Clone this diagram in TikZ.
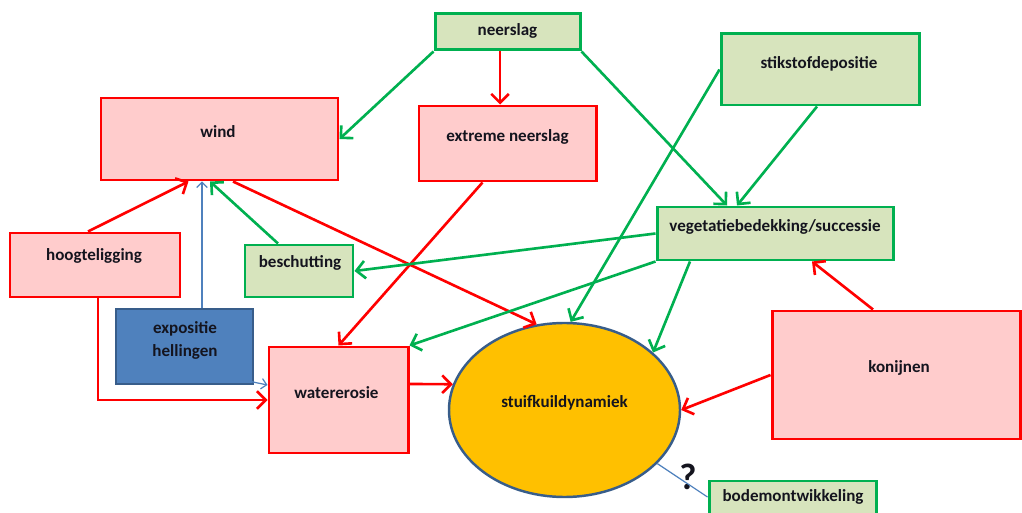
\documentclass[tikz,border=0pt]{standalone}
\usepackage{fontspec}
\setmainfont{Carlito}
\usetikzlibrary{arrows.meta,shapes.geometric}
\definecolor{rood}{HTML}{FF0000}
\definecolor{groen}{HTML}{00B050}
\definecolor{roze}{HTML}{FFCCCC}
\definecolor{lichtgroen}{HTML}{D7E4BD}
\definecolor{blauw}{HTML}{4F81BD}
\definecolor{donkerblauw}{HTML}{385D8A}
\definecolor{oranje}{HTML}{FFC000}
\definecolor{tekst}{HTML}{14141E}

\begin{document}
\begin{tikzpicture}[
	font=\fontsize{9.7}{13}\selectfont\bfseries,
	redbox/.style={draw=rood,fill=roze,line width=1.7pt,inner sep=0pt},
	greenbox/.style={draw=groen,fill=lichtgroen,line width=1.7pt,inner sep=0pt},
	redarrow/.style={draw=rood,line width=1.5pt,-{Straight Barb[length=5pt,width=10pt]}},
	greenarrow/.style={draw=groen,line width=1.5pt,-{Straight Barb[length=5pt,width=10pt]}},
	thinarrow/.style={draw=blauw,line width=0.7pt,-{Straight Barb[length=3pt,width=6pt]}},
	lbl/.style={text=tekst,inner sep=0pt,align=center}
	]
			\useasboundingbox (0,0) rectangle (20.44,-10.26);

			% vakken
			\node[greenbox,minimum width=2.9cm,minimum height=0.72cm] (neerslag) at (10.15,-0.64) {};
			\node[redbox,minimum width=4.74cm,minimum height=1.64cm] (wind) at (4.39,-2.78) {};
			\node[redbox,minimum width=3.54cm,minimum height=1.5cm] (extreem) at (10.15,-2.87) {};
			\node[greenbox,minimum width=3.96cm,minimum height=1.42cm] (stikstof) at (16.4,-1.39) {};
			\node[greenbox,minimum width=4.72cm,minimum height=1.06cm] (vegetatie) at (15.5,-4.67) {};
			\node[redbox,minimum width=3.4cm,minimum height=1.28cm] (hoogte) at (1.9,-5.3) {};
			\node[greenbox,minimum width=2.16cm,minimum height=1.04cm] (beschutting) at (5.98,-5.42) {};
			\node[draw=donkerblauw,fill=blauw,line width=1.4pt,inner sep=0pt,minimum width=2.74cm,minimum height=1.5cm] (expositie) at (3.69,-6.93) {};
			\node[redbox,minimum width=2.78cm,minimum height=2.12cm] (erosie) at (6.77,-8.0) {};
			\node[ellipse,draw=donkerblauw,fill=oranje,line width=1.4pt,inner sep=0pt,minimum width=4.62cm,minimum height=3.48cm] (stuif) at (11.29,-8.2) {};
			\node[redbox,minimum width=4.96cm,minimum height=2.56cm] (konijnen) at (17.92,-7.5) {};
			\node[greenbox,minimum width=3.34cm,minimum height=1.0cm] (bodem) at (15.85,-10.12) {};

			% teksten
			\node[lbl] (neerslag-t) at (10.15,-0.62) {neerslag};
			\node[lbl] (wind-t) at (4.36,-2.64) {wind};
			\node[lbl] (extreem-t) at (10.15,-2.74) {extreme neerslag};
			\node[lbl] (stikstof-t) at (16.38,-1.28) {stikstofdepositie};
			\node[lbl] (vegetatie-t) at (15.5,-4.54) {vegetatiebedekking/successie};
			\node[lbl] (hoogte-t) at (1.88,-5.12) {hoogteligging};
			\node[lbl] (beschutting-t) at (6.0,-5.26) {beschutting};
			\node[lbl] (expositie-t) at (3.7,-6.81) {expositie\\hellingen};
			\node[lbl] (erosie-t) at (6.73,-7.86) {watererosie};
			\node[lbl] (stuif-t) at (11.29,-8.06) {stuifkuildynamiek};
			\node[lbl] (konijnen-t) at (17.98,-7.36) {konijnen};
			\node[lbl] (bodem-t) at (15.86,-9.94) {bodemontwikkeling};
			\node[lbl,font=\fontsize{21}{21}\selectfont\bfseries] (vraag) at (13.76,-9.54) {?};

			% pijlen
			\draw[greenarrow] (neerslag.south west) -- (wind.east);
			\draw[redarrow] ([xshift=-0.15cm]neerslag.south) -- ([xshift=-0.15cm]extreem.north);
			\draw[greenarrow] (neerslag.south east) -- ([xshift=-0.96cm]vegetatie.north);
			\draw[greenarrow] ([xshift=-0.06cm]stikstof.south) -- ([xshift=-0.76cm]vegetatie.north);
			\draw[greenarrow] (stikstof.west) -- (stuif.86);
			\draw[redarrow] ([xshift=0.27cm]wind.south) -- (stuif.108);
			\draw[redarrow] ([xshift=-0.5cm]extreem.south) -- (erosie.north);
			\draw[redarrow] ([xshift=-0.14cm]hoogte.north) -- ([xshift=-0.62cm]wind.south);
			\draw[greenarrow] ([xshift=-0.42cm]beschutting.north) -- ([xshift=-0.19cm]wind.south);
			\draw[thinarrow] ([xshift=0.35cm]expositie.north) -- ([xshift=0.35cm]expositie.north |- wind.south);
			\draw[greenarrow] (vegetatie.west) -- (beschutting.east);
			\draw[greenarrow] (vegetatie.south west) -- (erosie.north east);
			\draw[greenarrow] ([xshift=-1.7cm]vegetatie.south) -- (stuif.33);
			\draw[redarrow] ([xshift=-0.46cm]konijnen.north) -- ([xshift=0.74cm]vegetatie.south);
			\draw[redarrow] (konijnen.west) -- (stuif.east);
			\draw[redarrow] ([yshift=0.32cm]erosie.east) -- (stuif.167);
			\draw[redarrow] ([xshift=0.06cm]hoogte.south) |- (erosie.west);
			\coordinate (expositie-in) at (3.6,-7.34);
			\draw[thinarrow] (expositie-in) -- ([yshift=0.3cm]erosie.west);
			\draw[draw=blauw,line width=0.7pt] (stuif.-30) -- ([yshift=0.18cm]bodem.west);
		\end{tikzpicture}
\end{document}
